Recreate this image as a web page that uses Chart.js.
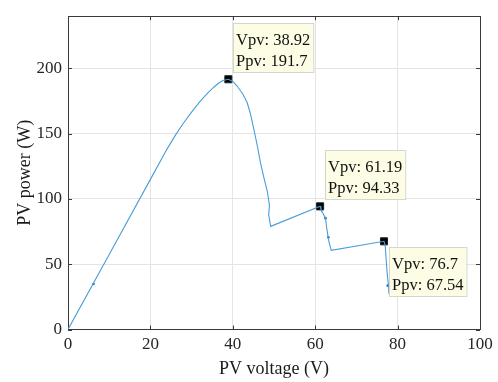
<!DOCTYPE html>
<html>
<head>
<meta charset="utf-8">
<script src="https://cdn.jsdelivr.net/npm/chart.js@4"></script>
<style>
  html, body { margin: 0; padding: 0; background: #fff; }
  #wrap { width: 498px; height: 382px; }
</style>
</head>
<body>
<div id="wrap"><canvas id="pvChart"></canvas></div>
<script>
// P-V curve (voltage in V, power in W)
const voltage = [0, 10, 20, 24, 26, 28, 30, 32, 34, 35.4, 36.5, 37.6, 38.92,
  40, 41.1, 42.5, 43.5, 44.3, 45.1, 46, 46.7, 47.5, 48.4, 48.9, 48.7, 49.2,
  61.19, 61.4, 62.5, 62.8, 63.1, 63.3, 63.9,
  76.7, 77.0, 77.3, 77.5, 77.8, 77.9];
const power = [0, 57.5, 115, 138, 148.5, 158, 166.5, 174.5, 181.5, 185.6, 188.6, 190.8, 191.7,
  190, 186.3, 180, 173.7, 165, 153.5, 140, 128, 117, 105.5, 95, 88, 79,
  94.33, 92, 85.3, 77.7, 71.4, 67.7, 60.6,
  67.54, 64, 50, 42, 33.6, 27.3];

// a few denser samples that show as small dots on the trace
const dotV = [6.2, 62.5, 63.2, 77.6];
const dotP = [34.8, 85.3, 70.7, 33.6];

// data tips (local maxima)
const tipV = [38.92, 61.19, 76.7];
const tipP = [191.7, 94.33, 67.54];
const tipBelow = [false, false, true];

const xTicks = [0, 20, 40, 60, 80, 100];
const yTicks = [0, 50, 100, 150, 200];

const serif = '"Liberation Serif", "Times New Roman", serif';

// box around the axes + inward tick marks, like matlab
const framePlugin = {
    id: 'frame',
    beforeDatasetsDraw(chart) {
        const { ctx, chartArea: a, scales } = chart;
        ctx.save();
        ctx.strokeStyle = '#3a3a3a';
        ctx.lineWidth = 1;
        ctx.beginPath();
        xTicks.forEach(v => {
            const x = Math.round(scales.x.getPixelForValue(v)) + 0.5;
            ctx.moveTo(x, a.bottom); ctx.lineTo(x, a.bottom - 4);
            ctx.moveTo(x, a.top); ctx.lineTo(x, a.top + 4);
        });
        yTicks.forEach(v => {
            const y = Math.round(scales.y.getPixelForValue(v)) + 0.5;
            ctx.moveTo(a.left, y); ctx.lineTo(a.left + 4, y);
            ctx.moveTo(a.right, y); ctx.lineTo(a.right - 4, y);
        });
        ctx.stroke();
        ctx.strokeRect(Math.round(a.left) + 0.5, Math.round(a.top) + 0.5,
            Math.round(a.right - a.left), Math.round(a.bottom - a.top));
        ctx.restore();
    }
};

// yellow data-tip boxes next to the marked points
const tipPlugin = {
    id: 'tips',
    afterDatasetsDraw(chart) {
        const { ctx, scales } = chart;
        ctx.save();
        ctx.font = '16.5px ' + serif;
        tipV.forEach((v, i) => {
            const px = scales.x.getPixelForValue(v);
            const py = scales.y.getPixelForValue(tipP[i]);
            const l1 = 'Vpv: ' + v;
            const l2 = 'Ppv: ' + tipP[i];
            const w = Math.max(ctx.measureText(l1).width, ctx.measureText(l2).width) + 6;
            const h = 49;
            const bx = Math.round(px + 5);
            const by = Math.round(tipBelow[i] ? py + 6 : py - 7 - h);
            ctx.fillStyle = '#fdfde6';
            ctx.fillRect(bx, by, w, h);
            ctx.strokeStyle = '#d6d6d0';
            ctx.lineWidth = 1;
            ctx.strokeRect(bx + 0.5, by + 0.5, w, h);
            ctx.fillStyle = '#111';
            ctx.textBaseline = 'alphabetic';
            ctx.fillText(l1, bx + 3, by + 21.5);
            ctx.fillText(l2, bx + 3, by + 42.5);
        });
        ctx.restore();
    }
};

document.addEventListener('DOMContentLoaded', function() {
    const ctx = document.getElementById('pvChart').getContext('2d');
    new Chart(ctx, {
        type: 'scatter',
        data: {
            datasets: [{
                label: 'PV curve',
                data: voltage.map((v, i) => ({ x: v, y: power[i] })),
                showLine: true,
                borderColor: '#4a9dd6',
                borderWidth: 1.1,
                pointRadius: 0,
                tension: 0
            }, {
                label: 'dots',
                data: dotV.map((v, i) => ({ x: v, y: dotP[i] })),
                pointRadius: 1.3,
                backgroundColor: '#1f74bb',
                borderWidth: 0
            }, {
                label: 'tips',
                data: tipV.map((v, i) => ({ x: v, y: tipP[i] })),
                pointStyle: 'rect',
                pointRadius: 5,
                backgroundColor: '#000',
                borderColor: '#222',
                borderWidth: 1
            }]
        },
        options: {
            responsive: true,
            maintainAspectRatio: false,
            animation: false,
            layout: { padding: { left: 0, right: 18, top: 13, bottom: 0 } },
            plugins: {
                legend: { display: false },
                tooltip: { enabled: false }
            },
            scales: {
                x: {
                    type: 'linear',
                    min: 0,
                    max: 100,
                    afterBuildTicks: s => { s.ticks = xTicks.map(v => ({ value: v })); },
                    afterFit: s => { s.height = 52.5; },
                    grid: { color: '#e4e4e4', drawTicks: false },
                    border: { display: false },
                    ticks: { color: '#262626', padding: 5, font: { family: serif, size: 17 } },
                    title: {
                        display: true,
                        text: 'PV voltage (V)',
                        color: '#1a1a1a',
                        font: { family: serif, size: 18 },
                        padding: { top: 0, bottom: 2 }
                    }
                },
                y: {
                    min: 0,
                    max: 240,
                    afterBuildTicks: s => { s.ticks = yTicks.map(v => ({ value: v })); },
                    afterFit: s => { s.width = 68; },
                    grid: { color: '#e4e4e4', drawTicks: false },
                    border: { display: false },
                    ticks: { color: '#262626', padding: 6, font: { family: serif, size: 17 } },
                    title: {
                        display: true,
                        text: 'PV power (W)',
                        color: '#1a1a1a',
                        font: { family: serif, size: 18 },
                        padding: { top: 14, bottom: 0 }
                    }
                }
            }
        },
        plugins: [framePlugin, tipPlugin]
    });
});
</script>
</body>
</html>
